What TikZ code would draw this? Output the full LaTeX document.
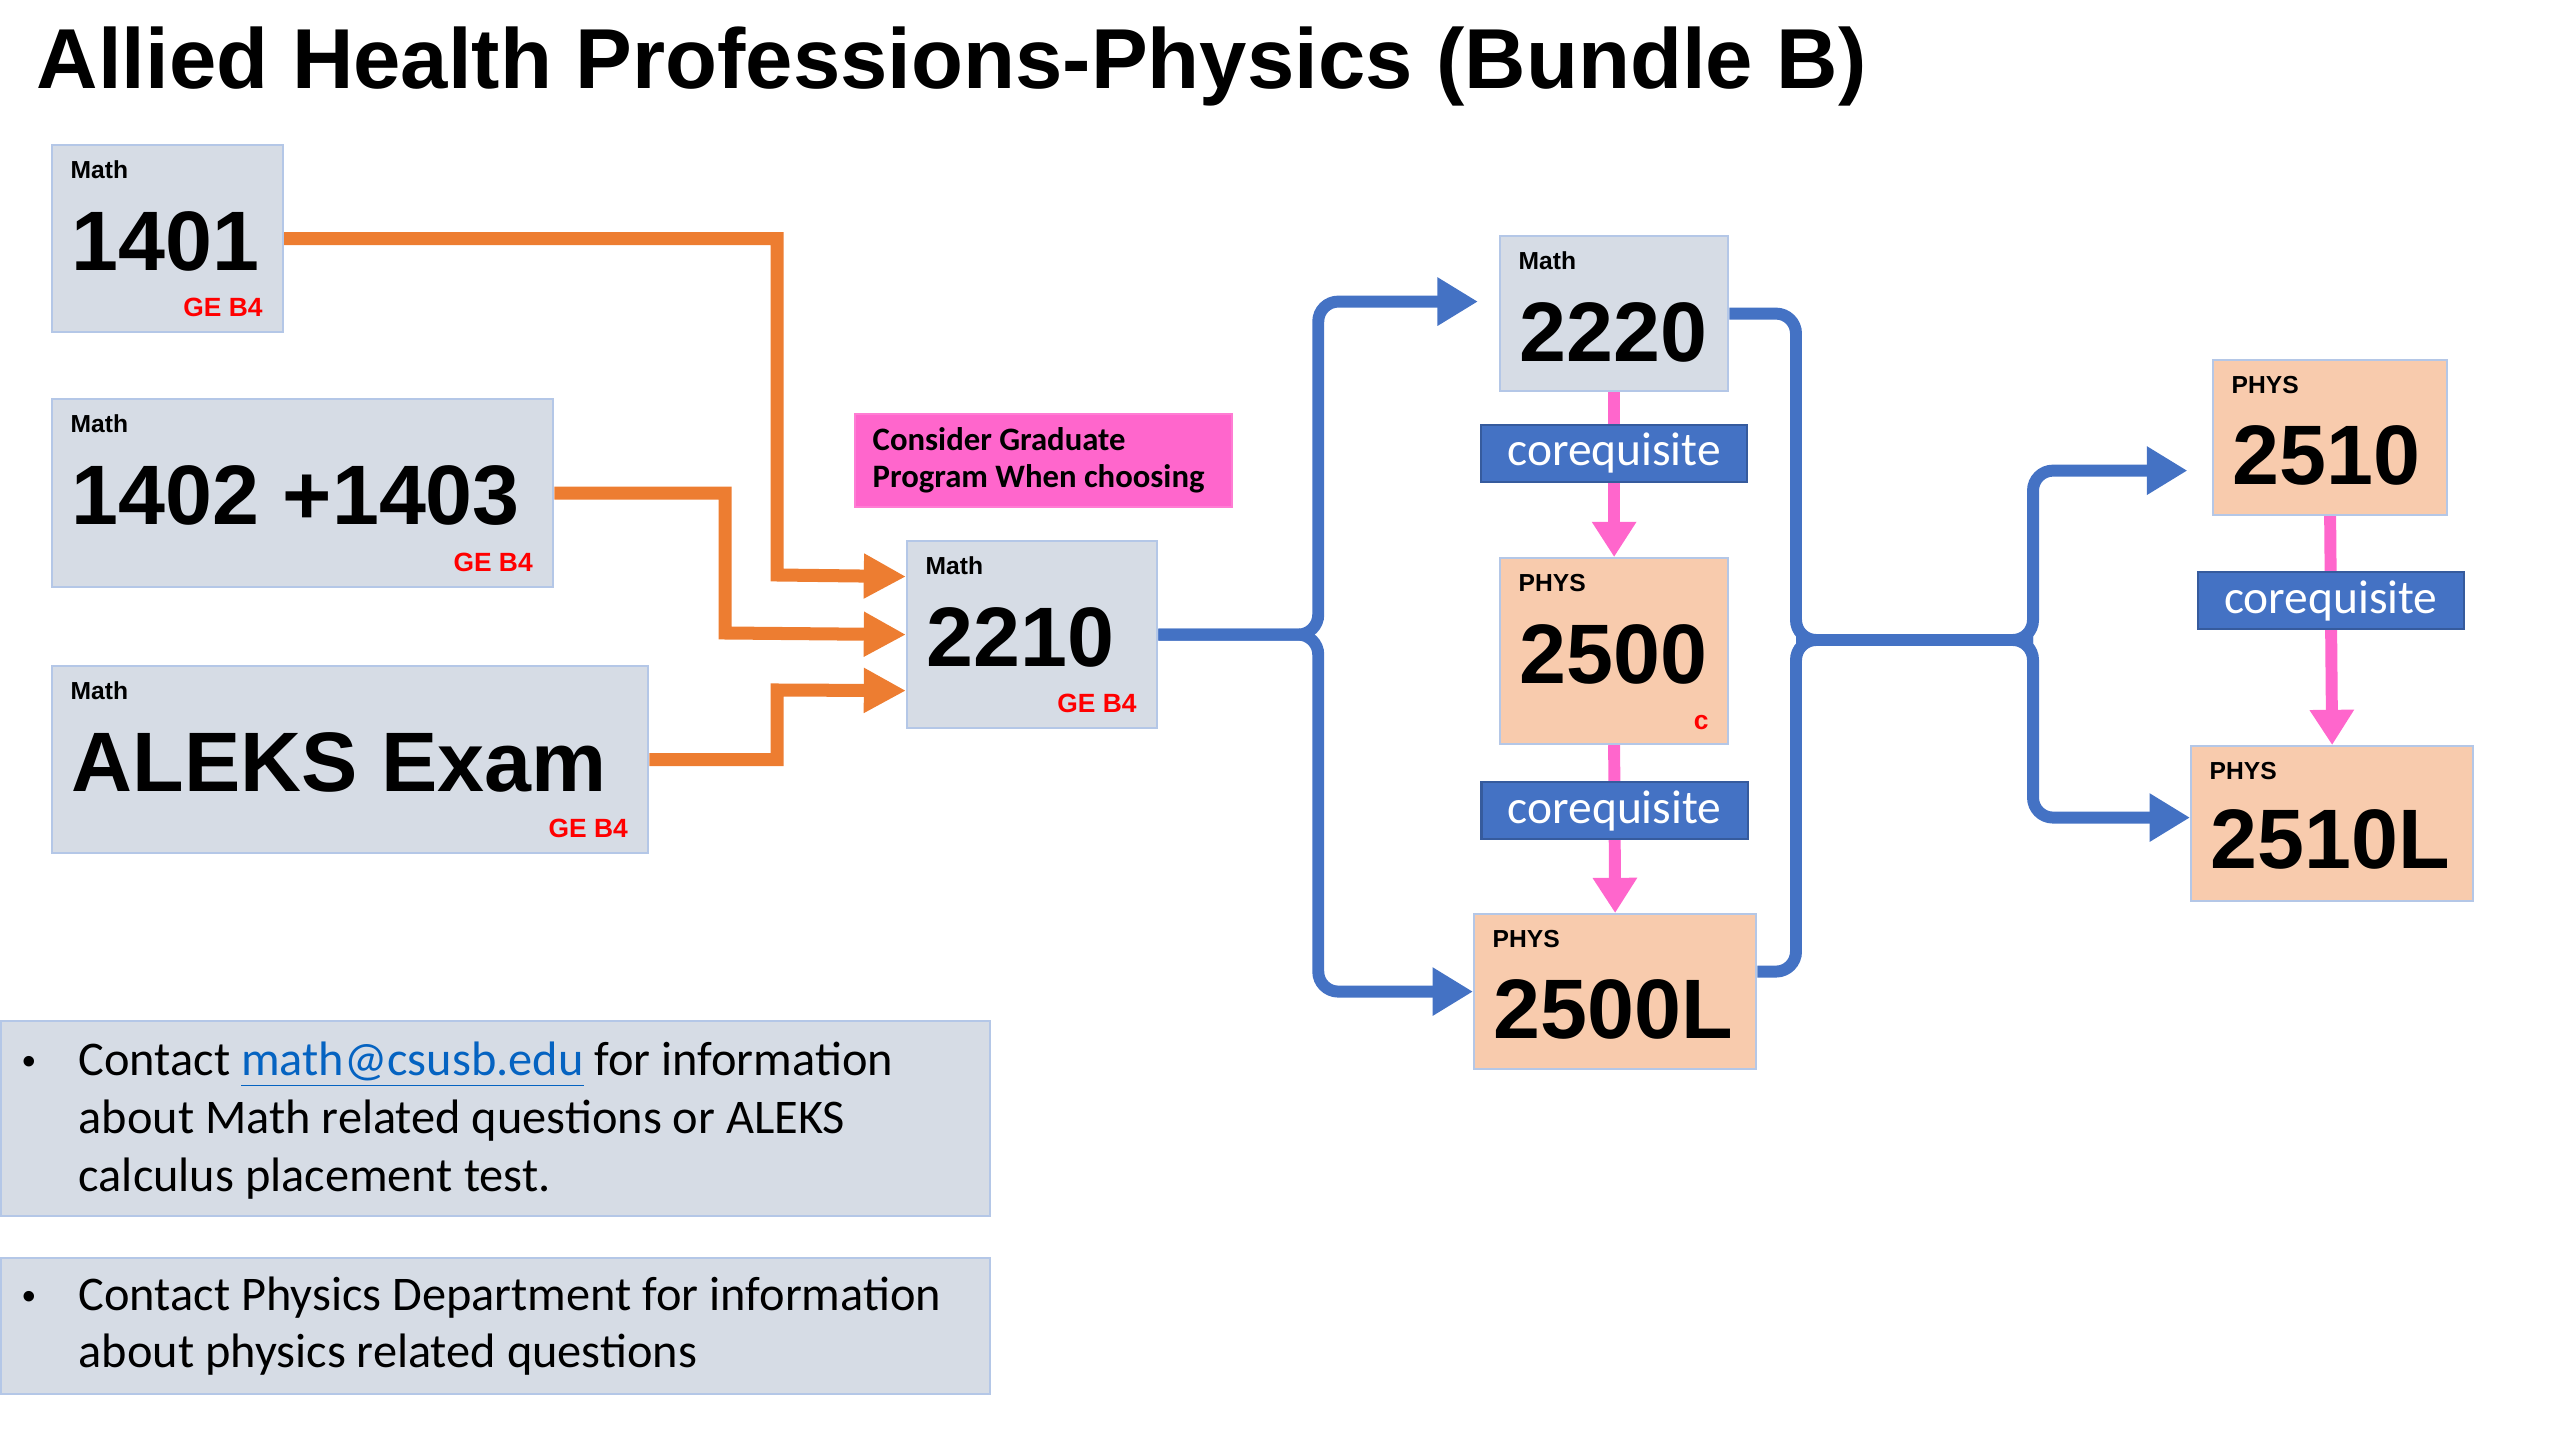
\documentclass[tikz,border=0pt]{standalone}
\usepackage{fontspec}
\setmainfont{Liberation Sans}
\newfontfamily\calibri{Carlito}
\usetikzlibrary{arrows.meta,calc,positioning}
\definecolor{boxgray}{HTML}{D6DCE5}
\definecolor{boxedge}{HTML}{B4C7E7}
\definecolor{peach}{HTML}{F8CBAD}
\definecolor{orangeln}{HTML}{ED7D31}
\definecolor{blueln}{HTML}{4472C4}
\definecolor{pinkln}{HTML}{FF66CC}
\definecolor{linkblue}{HTML}{0563C1}
\begin{document}
\begin{tikzpicture}[x=0.01cm,y=-0.01cm,
    mathbox/.style={draw=boxedge,fill=boxgray,line width=0.6pt,inner sep=0pt,anchor=north west},
    physbox/.style={mathbox,fill=peach},
    dept/.style={anchor=west,inner sep=0pt,font=\bfseries\fontsize{7}{8}\selectfont},
    num/.style={anchor=base west,inner sep=0pt,font=\bfseries\fontsize{24}{28}\selectfont},
    ge/.style={anchor=east,inner sep=0pt,text=red,font=\bfseries\fontsize{7.5}{8}\selectfont},
    coreq/.style={fill=blueln,draw=blueln!80!black,line width=0.6pt,text=white,inner sep=0pt,
        minimum width=2.66cm,minimum height=0.57cm,font=\calibri\fontsize{13.5}{16}\selectfont},
    orangearrow/.style={draw=orangeln,line width=3.7pt,-{Triangle[length=12pt,width=12pt]}},
    blueline/.style={draw=blueln,line width=3.4pt,rounded corners=0.2cm},
    bluearrow/.style={blueline,-{Triangle[length=11.5pt,width=13pt]}},
    pinkarrow/.style={draw=pinkln,line width=3.4pt,-{Triangle[length=10pt,width=12pt]}},
    notetext/.style={anchor=base west,inner sep=0pt,font=\calibri\fontsize{13.75}{16}\selectfont}]
\useasboundingbox (0,0) rectangle (2560,1440);
% title
\node[anchor=base west,inner sep=0pt,font=\bfseries\fontsize{24.2}{29}\selectfont] (title) at (36,89) {Allied Health Professions-Physics (Bundle B)};
% math entry courses
\node[mathbox,minimum width=2.31cm,minimum height=1.87cm] (m1401) at (51,144) {};
\node[dept] (m1401d) at ([shift={(19,26)}]m1401.north west) {Math};
\node[num] (m1401n) at ([shift={(20,127)}]m1401.north west) {1401};
\node[ge] (m1401g) at ([shift={(-21,-26)}]m1401.south east) {GE B4};
\node[mathbox,minimum width=5.01cm,minimum height=1.88cm] (m1402) at (51,398) {};
\node[dept] (m1402d) at ([shift={(19,26)}]m1402.north west) {Math};
\node[num] (m1402n) at ([shift={(20,127)}]m1402.north west) {1402 +1403};
\node[ge] (m1402g) at ([shift={(-21,-26)}]m1402.south east) {GE B4};
\node[mathbox,minimum width=5.96cm,minimum height=1.87cm] (maleks) at (51,665) {};
\node[dept] (malekSd) at ([shift={(19,26)}]maleks.north west) {Math};
\node[num] (maleksn) at ([shift={(20,127)}]maleks.north west) {ALEKS Exam};
\node[ge] (maleksg) at ([shift={(-21,-26)}]maleks.south east) {GE B4};
\node[mathbox,minimum width=2.50cm,minimum height=1.87cm] (m2210) at (906,540) {};
\node[dept] (m2210d) at ([shift={(19,26)}]m2210.north west) {Math};
\node[num] (m2210n) at ([shift={(20,127)}]m2210.north west) {2210};
\node[ge] (m2210g) at ([shift={(-21,-26)}]m2210.south east) {GE B4};
% note
\node[anchor=north west,fill=pinkln,draw=pinkln!85!white,line width=0.6pt,inner sep=0pt,minimum width=3.77cm,minimum height=0.93cm] (grad) at (854,413) {};
\node[anchor=west,align=left,inner sep=0pt,font=\calibri\bfseries\fontsize{9.3}{10.5}\selectfont] (gradt) at (872,460) {Consider Graduate\\Program When choosing};
% second column
\node[mathbox,minimum width=2.28cm,minimum height=1.55cm] (m2220) at (1499,235) {};
\node[dept] (m2220d) at ([shift={(19,26)}]m2220.north west) {Math};
\node[num] (m2220n) at ([shift={(20,127)}]m2220.north west) {2220};
\node[physbox,minimum width=2.28cm,minimum height=1.86cm] (p2500) at (1499,557) {};
\node[dept] (p2500d) at ([shift={(19,26)}]p2500.north west) {PHYS};
\node[num] (p2500n) at ([shift={(20,127)}]p2500.north west) {2500};
\node[ge] (p2500g) at ([shift={(-20,-23)}]p2500.south east) {c};
\node[physbox,minimum width=2.82cm,minimum height=1.55cm] (p2500L) at (1473,913) {};
\node[dept] (p2500Ld) at ([shift={(19,26)}]p2500L.north west) {PHYS};
\node[num] (p2500Ln) at ([shift={(20,125)}]p2500L.north west) {2500L};
% third column
\node[physbox,minimum width=2.34cm,minimum height=1.55cm] (p2510) at (2212,359) {};
\node[dept] (p2510d) at ([shift={(19,26)}]p2510.north west) {PHYS};
\node[num] (p2510n) at ([shift={(20,126)}]p2510.north west) {2510};
\node[physbox,minimum width=2.82cm,minimum height=1.55cm] (p2510L) at (2190,745) {};
\node[dept] (p2510Ld) at ([shift={(19,26)}]p2510L.north west) {PHYS};
\node[num] (p2510Ln) at ([shift={(20,124)}]p2510L.north west) {2510L};
% orange arrows into 2210
\coordinate (o1) at (777,575);
\coordinate (o2) at (725,633);
\coordinate (o3) at (777,690);
\draw[orangearrow] (m1401.east) -| (o1) -- ([yshift=0.58cm]m2210.west);
\draw[orangearrow] (m1402.east) -| (o2) -- (m2210.west);
\draw[orangearrow] (maleks.east) -| (o3) -- ([yshift=-0.56cm]m2210.west);
% blue branches
\coordinate (s1) at ($(m2210.east)+(160,0)$);
\draw[bluearrow,shorten >=6pt] (m2210.east) -- (s1) |- ([yshift=0.12cm]m2220.west);
\draw[bluearrow] (m2210.east) -- (s1) |- (p2500L.west);
\coordinate (s2) at (1796,640);
\coordinate (s3) at (2033,640);
\draw[blueline] (m2220.east) -| (s2) -- (s3);
\draw[blueline] ([yshift=0.2cm]p2500L.east) -| (s2) -- (s3);
\draw[bluearrow,shorten >=7pt] (s2) -- (s3) |- ([yshift=-0.33cm]p2510.west);
\draw[bluearrow] (s2) -- (s3) |- ([yshift=0.06cm]p2510L.west);
% corequisites
\draw[pinkarrow] (m2220.south) -- node[coreq,pos=0.37] (cq1) {corequisite} (p2500.north);
\draw[pinkarrow] (p2500.south) -- node[coreq,pos=0.39] (cq2) {corequisite} (p2500L.north);
\draw[pinkarrow] (p2510.south) -- node[coreq,pos=0.37] (cq3) {corequisite} (p2510L.north);
% contact notes
\node[mathbox,minimum width=9.88cm,minimum height=1.95cm] (info1) at (0,1020) {};
\node[notetext,font=\fontsize{11}{12}\selectfont] (b1) at (22,1074) {\textbullet};
\node[notetext] (l1a) at (78,1075) {Contact \textcolor{linkblue}{\underline{math@csusb.edu}} for information};
\node[notetext] (l1b) at (78,1133) {about Math related questions or ALEKS};
\node[notetext] (l1c) at (78,1191) {calculus placement test.};
\node[mathbox,minimum width=9.88cm,minimum height=1.36cm] (info2) at (0,1257) {};
\node[notetext,font=\fontsize{11}{12}\selectfont] (b2) at (22,1309) {\textbullet};
\node[notetext] (l2a) at (78,1310) {Contact Physics Department for information};
\node[notetext] (l2b) at (78,1367) {about physics related questions};
\end{tikzpicture}
\end{document}
